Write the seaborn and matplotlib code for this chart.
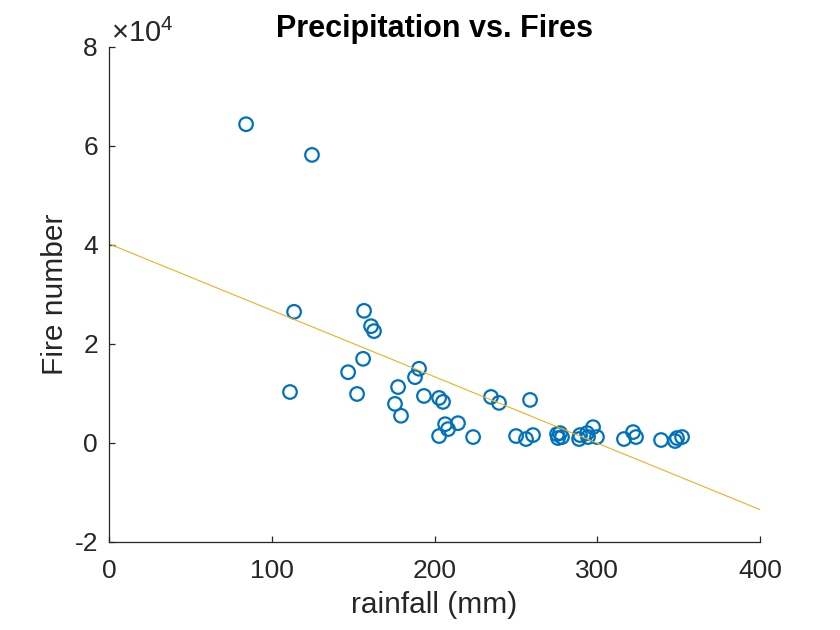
import numpy as np
import pandas as pd
import matplotlib
matplotlib.use("Agg")
import matplotlib.pyplot as plt
import seaborn as sns
from matplotlib.ticker import FuncFormatter

# rainfall (mm) and number of fires
rainfall = [84.2, 124.7, 113.7, 111.2, 156.7, 161.0, 162.8, 156.1, 146.9, 152.4,
            177.6, 175.7, 179.4, 190.5, 188.0, 193.5, 202.8, 205.2, 206.5, 208.3,
            214.4, 202.8, 223.7, 234.7, 239.6, 258.7, 250.1, 256.2, 260.5, 275.3,
            275.9, 278.3, 277.1, 289.4, 288.8, 293.7, 297.4, 299.8, 294.3, 316.4,
            322.0, 323.8, 339.2, 347.8, 349.0, 352.1]
fires = [64400, 58200, 26500, 10300, 26700, 23600, 22600, 17000, 14300, 9900,
         11300, 7900, 5500, 15000, 13300, 9500, 9100, 8300, 3800, 2800,
         4000, 1400, 1200, 9300, 8100, 8700, 1400, 800, 1600, 1800,
         1000, 1200, 2000, 1600, 800, 2000, 3200, 1200, 1200, 800,
         2200, 1200, 600, 400, 1000, 1200]

df = pd.DataFrame({"rainfall": rainfall, "fires": fires})

sns.set_style("ticks")
plt.rcParams["font.family"] = ["Liberation Sans", "DejaVu Sans"]
plt.rcParams["axes.unicode_minus"] = False
plt.rcParams["mathtext.fontset"] = "custom"
plt.rcParams["mathtext.rm"] = "Liberation Sans"
plt.rcParams["mathtext.it"] = "Liberation Sans"

fig = plt.figure(figsize=(8.4, 6.3), dpi=100)
ax = fig.add_axes([0.1298, 0.1397, 0.775, 0.7857])

blue = "#0072BD"
gold = "#EDB120"
dark = "#262626"

sns.scatterplot(data=df, x="rainfall", y="fires", ax=ax, marker="o",
                s=95, facecolors="none", edgecolor=blue, linewidth=1.6)

# least-squares fit line over the whole x range
slope, intercept = np.polyfit(df["rainfall"], df["fires"], 1)
xfit = np.array([0, 400])
sns.lineplot(x=xfit, y=intercept + slope * xfit, ax=ax, color=gold, linewidth=0.8)

ax.set_xlim(0, 400)
ax.set_ylim(-20000, 80000)
ax.set_xticks([0, 100, 200, 300, 400])
ax.set_yticks([-20000, 0, 20000, 40000, 60000, 80000])
ax.yaxis.set_major_formatter(FuncFormatter(lambda v, p: f"{v / 1e4:g}"))
ax.text(0.003, 0.998, r"$\mathregular{\times10^4}$", transform=ax.transAxes,
        fontsize=21, color=dark, ha="left", va="bottom")

sns.despine(ax=ax)
for sp in ["left", "bottom"]:
    ax.spines[sp].set_color(dark)
    ax.spines[sp].set_linewidth(0.9)
ax.tick_params(direction="in", length=4.5, width=0.9, colors=dark, labelsize=19)
ax.tick_params(axis="x", pad=12)
ax.tick_params(axis="y", pad=8)

ax.set_xlabel("rainfall (mm)", fontsize=21.5, color=dark, labelpad=6)
ax.set_ylabel("Fire number", fontsize=21.5, color=dark, labelpad=4)
ax.set_title("Precipitation vs. Fires", fontsize=22, fontweight="bold",
             color="black", pad=7)

fig.savefig("out.png", dpi=100)
